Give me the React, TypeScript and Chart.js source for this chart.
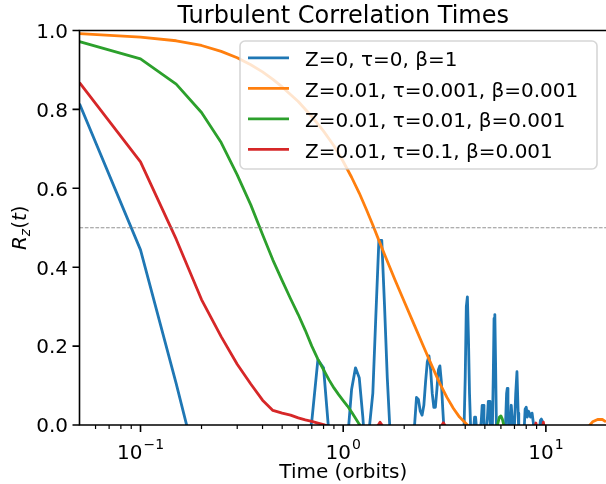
import React, { useEffect, useRef } from 'react';
import { Chart, registerables } from 'chart.js';

Chart.register(...registerables);

const FONT = "'DejaVu Sans', 'Liberation Sans', sans-serif";

const chartTitle = 'Turbulent Correlation Times';
const xAxisLabel = 'Time (orbits)';
const seriesLabels = ['Z=0, τ=0, β=1', 'Z=0.01, τ=0.001, β=0.001', 'Z=0.01, τ=0.01, β=0.001', 'Z=0.01, τ=0.1, β=0.001'];
const seriesColors = ['#1f77b4', '#ff7f0e', '#2ca02c', '#d62728'];

const xMin = 0.05;
const xMax = 19.8;
const yTicks = [0, 0.2, 0.4, 0.6, 0.8, 1.0];
const yTickLabels = ['0.0', '0.2', '0.4', '0.6', '0.8', '1.0'];
const xMajorTicks = [0.1, 1, 10];
const xMajorExponents = ['−1', '0', '1'];
const xMinorTicks = [0.06, 0.07, 0.08, 0.09, 0.2, 0.3, 0.4, 0.5, 0.6, 0.7, 0.8, 0.9, 2, 3, 4, 5, 6, 7, 8, 9];
const referenceLevel = 0.5;

const blueTimes = [0.05, 0.1, 0.15, 0.2, 0.3, 0.45, 0.6, 0.65, 0.7, 0.75, 0.8, 0.85, 0.9, 1.0, 1.05, 1.1, 1.15, 1.2, 1.25, 1.3, 1.35, 1.4, 1.45, 1.5, 1.55, 1.6, 1.65, 1.7, 1.75, 2.0, 2.2, 2.25, 2.3, 2.35, 2.4, 2.45, 2.5, 2.55, 2.6, 2.65, 2.7, 2.75, 2.8, 2.85, 2.9, 2.95, 3.0, 3.05, 3.1, 3.15, 3.2, 3.5, 3.9, 3.95, 4.0, 4.05, 4.1, 4.15, 4.2, 4.25, 4.3, 4.4, 4.45, 4.5, 4.55, 4.7, 4.8, 4.85, 4.9, 4.95, 5.05, 5.15, 5.2, 5.25, 5.3, 5.35, 5.45, 5.5, 5.55, 5.6, 5.65, 5.7, 5.75, 6.3, 6.4, 6.45, 6.5, 6.55, 6.7, 6.75, 6.8, 6.85, 6.95, 7.0, 7.1, 7.2, 7.3, 7.35, 7.8, 7.9, 8.0, 8.1, 8.2, 8.3, 8.4, 8.55, 8.65, 8.8, 9.3, 9.4, 9.5, 9.6, 9.75, 10.0, 19.8];
const blueValues = [0.814, 0.444, 0.105, -0.15, -0.25, -0.25, -0.15, -0.08, 0.01, 0.165, 0.145, -0.02, -0.15, -0.15, -0.04, 0.09, 0.145, 0.12, 0.02, -0.1, 0.0, 0.08, 0.28, 0.468, 0.468, 0.3, 0.12, -0.01, -0.12, -0.15, -0.05, 0.0, 0.07, 0.065, 0.035, 0.025, 0.05, 0.11, 0.16, 0.175, 0.14, 0.08, 0.045, 0.045, 0.09, 0.14, 0.15, 0.11, 0.04, -0.02, -0.08, -0.1, -0.05, 0.0, 0.12, 0.3, 0.325, 0.22, 0.08, 0.0, -0.03, -0.01, 0.02, 0.02, -0.01, -0.03, 0.01, 0.05, 0.05, 0.0, -0.03, 0.02, 0.06, 0.06, 0.02, -0.02, 0.0, 0.12, 0.27, 0.28, 0.15, 0.0, -0.05, -0.02, 0.08, 0.093, 0.06, -0.01, 0.0, 0.05, 0.05, 0.0, -0.03, 0.0, 0.08, 0.135, 0.03, -0.02, -0.02, 0.04, 0.045, 0.02, 0.035, 0.03, 0.02, 0.03, 0.01, -0.02, -0.01, 0.012, 0.015, 0.01, -0.01, -0.02, -0.02];

const orangeTimes = [0.05, 0.1, 0.15, 0.2, 0.25, 0.3, 0.35, 0.4, 0.45, 0.5, 0.6, 0.7, 0.8, 0.9, 1.0, 1.1, 1.2, 1.3, 1.4, 1.5, 1.6, 1.8, 2.0, 2.25, 2.5, 2.75, 3.0, 3.25, 3.5, 3.75, 4.0, 4.1, 4.5, 16.0, 16.5, 17.0, 18.0, 19.0, 19.8];
const orangeValues = [0.992, 0.983, 0.974, 0.962, 0.947, 0.931, 0.913, 0.895, 0.876, 0.857, 0.82, 0.782, 0.745, 0.708, 0.668, 0.628, 0.588, 0.547, 0.507, 0.468, 0.432, 0.368, 0.313, 0.252, 0.197, 0.148, 0.105, 0.07, 0.042, 0.02, 0.006, 0.0, -0.02, -0.01, 0.0, 0.008, 0.014, 0.014, 0.008];

const greenTimes = [0.05, 0.1, 0.15, 0.2, 0.25, 0.3, 0.35, 0.4, 0.45, 0.5, 0.55, 0.6, 0.65, 0.7, 0.75, 0.8, 0.85, 0.9, 0.95, 1.0, 1.05, 1.1, 1.15, 1.2, 1.25, 5.7, 5.8, 5.9, 6.0, 6.1, 6.2, 6.3, 19.8];
const greenValues = [0.972, 0.928, 0.864, 0.792, 0.716, 0.634, 0.558, 0.483, 0.418, 0.366, 0.32, 0.28, 0.24, 0.2, 0.167, 0.14, 0.115, 0.094, 0.077, 0.062, 0.048, 0.033, 0.017, 0.002, -0.01, -0.01, 0.005, 0.02, 0.023, 0.015, 0.0, -0.01, -0.01];

const redTimes = [0.05, 0.1, 0.15, 0.2, 0.25, 0.3, 0.35, 0.4, 0.45, 0.5, 0.55, 0.6, 0.65, 0.7, 0.75, 0.8, 0.85, 1.0, 1.45, 1.52, 1.6, 3.0, 3.12, 3.25, 8.8, 8.93, 9.05, 9.6, 9.72, 9.85, 19.8];
const redValues = [0.868, 0.667, 0.471, 0.318, 0.224, 0.154, 0.104, 0.063, 0.037, 0.03, 0.025, 0.018, 0.013, 0.009, 0.005, 0.001, -0.004, -0.01, -0.01, 0.007, -0.01, -0.01, 0.006, -0.01, -0.01, 0.005, -0.01, -0.01, 0.007, -0.01, -0.01];

const toPoints = (times: number[], values: number[]) => times.map((t, i) => ({ x: t, y: values[i] }));

const decorPlugin = {
  id: 'decor',
  afterDatasetsDraw(chart: any) {
    const { ctx, chartArea: a, scales } = chart;
    const xs = scales.x;
    const ys = scales.y;
    ctx.save();

    // reference dashed line
    const yr = ys.getPixelForValue(referenceLevel);
    ctx.strokeStyle = 'rgba(128,128,128,0.85)';
    ctx.lineWidth = 1;
    ctx.setLineDash([3.7, 1.6]);
    ctx.beginPath();
    ctx.moveTo(a.left, yr);
    ctx.lineTo(a.right, yr);
    ctx.stroke();
    ctx.setLineDash([]);

    // spines
    ctx.strokeStyle = '#000';
    ctx.lineWidth = 1.6;
    ctx.beginPath();
    ctx.moveTo(a.left, a.top - 0.8);
    ctx.lineTo(a.left, a.bottom + 0.8);
    ctx.moveTo(a.left - 0.8, a.bottom);
    ctx.lineTo(a.right + 2, a.bottom);
    ctx.moveTo(a.left - 0.8, a.top);
    ctx.lineTo(a.right + 2, a.top);
    ctx.stroke();

    // y ticks
    ctx.beginPath();
    yTicks.forEach((v) => {
      const py = ys.getPixelForValue(v);
      ctx.moveTo(a.left - 7, py);
      ctx.lineTo(a.left, py);
    });
    // x major ticks
    xMajorTicks.forEach((t) => {
      const px = xs.getPixelForValue(t);
      ctx.moveTo(px, a.bottom);
      ctx.lineTo(px, a.bottom + 7);
    });
    ctx.stroke();
    ctx.lineWidth = 1.2;
    ctx.beginPath();
    xMinorTicks.forEach((t) => {
      const px = xs.getPixelForValue(t);
      ctx.moveTo(px, a.bottom);
      ctx.lineTo(px, a.bottom + 4);
    });
    ctx.stroke();

    ctx.fillStyle = '#000';
    // y tick labels
    ctx.font = `20px ${FONT}`;
    ctx.textAlign = 'right';
    ctx.textBaseline = 'alphabetic';
    yTicks.forEach((v, i) => {
      const py = ys.getPixelForValue(v);
      ctx.fillText(yTickLabels[i], a.left - 11.5, py + 7.3);
    });

    // x tick labels (10 with superscript exponent)
    ctx.textAlign = 'left';
    xMajorTicks.forEach((t, i) => {
      const px = xs.getPixelForValue(t);
      ctx.font = `20px ${FONT}`;
      const w1 = ctx.measureText('10').width;
      ctx.font = `14px ${FONT}`;
      const w2 = ctx.measureText(xMajorExponents[i]).width;
      const start = px - (w1 + w2 + 1) / 2;
      ctx.font = `20px ${FONT}`;
      ctx.fillText('10', start, 459);
      ctx.font = `14px ${FONT}`;
      ctx.fillText(xMajorExponents[i], start + w1 + 1, 449);
    });

    // x axis label
    ctx.font = `20px ${FONT}`;
    ctx.textAlign = 'center';
    ctx.fillText(xAxisLabel, (a.left + a.right) / 2 + 0.5, 478);

    // title
    ctx.font = `24px ${FONT}`;
    ctx.fillText(chartTitle, (a.left + a.right) / 2 + 0.5, 23);

    // y axis label R_z(t)
    ctx.save();
    ctx.translate(26, (a.top + a.bottom) / 2);
    ctx.rotate(-Math.PI / 2);
    const parts = [
      { t: 'R', f: `italic 20px ${FONT}`, dy: 0 },
      { t: 'z', f: `italic 14px ${FONT}`, dy: 4 },
      { t: '(', f: `20px ${FONT}`, dy: 0 },
      { t: 't', f: `italic 20px ${FONT}`, dy: 0 },
      { t: ')', f: `20px ${FONT}`, dy: 0 },
    ];
    let total = 0;
    const widths = parts.map((p) => {
      ctx.font = p.f;
      const w = ctx.measureText(p.t).width;
      total += w;
      return w;
    });
    let cx = -total / 2;
    ctx.textAlign = 'left';
    parts.forEach((p, i) => {
      ctx.font = p.f;
      ctx.fillText(p.t, cx, p.dy);
      cx += widths[i];
    });
    ctx.restore();

    // legend
    const lx = 240;
    const ly = 41;
    const lw = a.right + 1 - 10 - lx;
    const lh = 128;
    ctx.beginPath();
    (ctx as any).roundRect(lx, ly, lw, lh, 5);
    ctx.fillStyle = 'rgba(255,255,255,0.8)';
    ctx.fill();
    ctx.strokeStyle = 'rgba(204,204,204,0.8)';
    ctx.lineWidth = 1.6;
    ctx.stroke();
    ctx.font = `20px ${FONT}`;
    ctx.textAlign = 'left';
    seriesLabels.forEach((label, i) => {
      const ry = ly + 16.8 + i * 30.5;
      ctx.strokeStyle = seriesColors[i];
      ctx.lineWidth = 2.8;
      ctx.beginPath();
      ctx.moveTo(lx + 8, ry);
      ctx.lineTo(lx + 49, ry);
      ctx.stroke();
      ctx.fillStyle = '#000';
      ctx.fillText(label, lx + 65, ry + 8.5);
    });

    ctx.restore();
  },
};

export default function App() {
  const ref = useRef<HTMLCanvasElement>(null);
  useEffect(() => {
    const canvas = ref.current;
    if (!canvas) return;
    const allTimes = [blueTimes, orangeTimes, greenTimes, redTimes];
    const allValues = [blueValues, orangeValues, greenValues, redValues];
    const chart = new Chart(canvas, {
      type: 'line',
      data: {
        datasets: seriesLabels.map((label, i) => ({
          label,
          data: toPoints(allTimes[i], allValues[i]),
          borderColor: seriesColors[i],
          backgroundColor: seriesColors[i],
          borderWidth: 2.8,
          pointRadius: 0,
          tension: 0,
          fill: false,
          clip: 0,
          order: 4 - i,
          borderJoinStyle: 'round',
        })),
      },
      options: {
        responsive: false,
        animation: false,
        devicePixelRatio: 1,
        layout: { padding: { left: 79.5, right: 0, top: 30.5, bottom: 59 } },
        plugins: { legend: { display: false }, tooltip: { enabled: false }, title: { display: false } },
        scales: {
          x: { type: 'logarithmic', min: xMin, max: xMax, display: false },
          y: { type: 'linear', min: 0, max: 1, display: false },
        },
      },
      plugins: [decorPlugin],
    } as any);
    return () => chart.destroy();
  }, []);
  return (
    <div style={{ position: 'absolute', left: 0, top: 0, width: 606, height: 484, background: '#fff' }}>
      <canvas ref={ref} width={606} height={484} style={{ display: 'block' }} />
    </div>
  );
}
